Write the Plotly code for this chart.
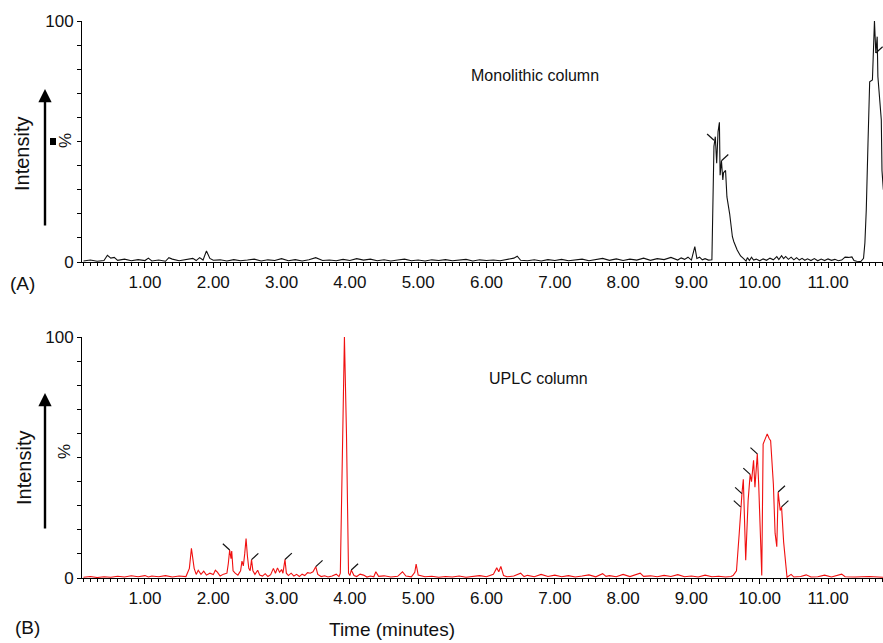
import plotly.graph_objects as go

# ---- (A) monolithic column: total ion chromatogram (time in min, intensity in %)
time_a = [
    0.10, 0.20, 0.30, 0.40, 0.45, 0.50, 0.55, 0.60, 0.70, 0.80, 0.90, 1.00, 1.05, 1.10,
    1.20, 1.30, 1.35, 1.40, 1.50, 1.60, 1.70, 1.75, 1.80, 1.85, 1.90, 1.95, 2.00, 2.10,
    2.20, 2.30, 2.40, 2.50, 2.60, 2.70, 2.80, 2.90, 3.00, 3.10, 3.20, 3.30, 3.40, 3.50,
    3.60, 3.70, 3.80, 3.90, 4.00, 4.10, 4.20, 4.30, 4.40, 4.50, 4.60, 4.70, 4.80, 4.90,
    5.00, 5.10, 5.20, 5.30, 5.40, 5.50, 5.60, 5.70, 5.80, 5.90, 6.00, 6.10, 6.20, 6.30,
    6.40, 6.45, 6.50, 6.60, 6.70, 6.80, 6.90, 7.00, 7.10, 7.20, 7.30, 7.40, 7.50, 7.60,
    7.70, 7.80, 7.90, 8.00, 8.10, 8.20, 8.30, 8.40, 8.50, 8.60, 8.70, 8.80, 8.85, 8.90,
    8.95, 9.00, 9.05, 9.08, 9.12, 9.16, 9.20, 9.25, 9.30,
    9.33, 9.35, 9.37, 9.39, 9.41, 9.42, 9.44, 9.46, 9.47, 9.50, 9.52, 9.56, 9.60, 9.62,
    9.67, 9.72, 9.76, 9.80,
    9.82, 9.85, 9.88, 9.91, 9.95, 10.00, 10.05, 10.10, 10.15, 10.20, 10.25, 10.28, 10.32,
    10.35, 10.38, 10.42, 10.46, 10.50, 10.54, 10.58, 10.62, 10.66, 10.70, 10.75, 10.80,
    10.85, 10.90, 10.95, 11.00, 11.05, 11.10, 11.15, 11.20, 11.25, 11.30, 11.35, 11.38,
    11.42, 11.48, 11.52, 11.54, 11.56, 11.585, 11.61, 11.65, 11.67, 11.68, 11.70, 11.72,
    11.73, 11.76, 11.78, 11.79, 11.81,
]
intensity_a = [
    0.4, 0.8, 0.3, 0.6, 2.8, 1.6, 1.9, 0.7, 1.2, 0.5, 1.0, 0.6, 1.6, 0.4,
    0.8, 0.3, 1.8, 1.2, 0.5, 0.9, 1.5, 0.6, 1.8, 0.8, 4.6, 1.5, 0.7, 0.9,
    0.4, 1.0, 0.5, 0.8, 1.2, 0.4, 0.9, 0.6, 1.4, 0.5, 1.0, 0.4, 0.9, 1.8,
    0.6, 0.8, 0.5, 1.1, 0.6, 1.4, 0.8, 1.2, 0.5, 0.9, 0.4, 0.8, 1.2, 0.5,
    0.8, 0.4, 0.9, 0.6, 1.0, 0.5, 0.8, 1.1, 0.4, 0.9, 0.6, 0.8, 0.5, 1.0,
    1.6, 2.4, 0.7, 0.5, 0.9, 0.4, 1.0, 0.6, 1.1, 0.5, 0.8, 1.2, 0.5, 0.9,
    1.5, 0.7, 1.3, 0.6, 1.2, 0.8, 1.6, 0.7, 1.4, 1.0, 1.9, 0.8, 1.7, 1.1,
    2.0, 0.8, 6.4, 1.5, 2.0, 0.9, 1.4, 0.8, 0.9,
    48.0, 52.0, 41.0, 54.0, 58.0, 36.0, 42.0, 34.0, 37.0, 38.0, 27.0, 20.0, 10.5, 8.5,
    5.0, 2.5, 1.5, 0.4,
    1.8, 0.6, 2.0, 0.8, 1.2, 0.5, 1.3, 0.7, 1.6, 0.9, 2.2, 1.0, 2.6,
    1.4, 2.3, 1.1, 2.0, 0.9, 1.8, 0.8, 1.5, 0.7, 1.3, 0.6, 1.4,
    0.5, 1.2, 0.6, 1.3, 0.7, 1.1, 0.5, 0.8, 2.0, 1.9, 2.1, 0.6,
    0.3, 0.2, 1.5, 8.0, 21.6, 49.0, 74.8, 75.5, 96.0, 100.0, 86.7, 93.5,
    77.0, 64.0, 59.0, 38.0, 30.0,
]

# ---- (B) UPLC column
time_b = [
    0.10, 0.20, 0.30, 0.40, 0.50, 0.60, 0.70, 0.80, 0.90, 1.00, 1.05, 1.10, 1.20, 1.30,
    1.40, 1.50, 1.60, 1.65, 1.68, 1.72, 1.75, 1.78, 1.82, 1.86, 1.90, 1.95, 2.00, 2.03,
    2.06, 2.10, 2.15, 2.20, 2.22, 2.24, 2.26, 2.27, 2.29, 2.32, 2.36, 2.40, 2.42, 2.44,
    2.46, 2.48, 2.50, 2.52, 2.54, 2.56, 2.58, 2.61, 2.65, 2.68, 2.72, 2.76, 2.80, 2.84,
    2.88, 2.91, 2.94, 2.97, 3.00, 3.02, 3.05, 3.07, 3.10, 3.14, 3.18, 3.22, 3.26, 3.30,
    3.34, 3.38, 3.42, 3.46, 3.50, 3.53, 3.58, 3.63, 3.68, 3.74, 3.80, 3.84, 3.86, 3.89,
    3.92, 3.95, 3.98, 4.00, 4.02, 4.06, 4.10, 4.15, 4.20, 4.25, 4.30, 4.35, 4.38, 4.42,
    4.50, 4.60, 4.70, 4.77, 4.82, 4.90, 4.95, 4.97, 5.00, 5.10, 5.20, 5.30, 5.40, 5.50,
    5.60, 5.70, 5.80, 5.90, 6.00, 6.10, 6.15, 6.18, 6.21, 6.25, 6.30, 6.40, 6.50, 6.55,
    6.60, 6.70, 6.80, 6.90, 7.00, 7.10, 7.20, 7.30, 7.40, 7.50, 7.60, 7.70, 7.75, 7.80,
    7.90, 8.00, 8.10, 8.20, 8.25, 8.30, 8.40, 8.50, 8.60, 8.70, 8.80, 8.90, 9.00, 9.10,
    9.20, 9.30, 9.40, 9.50, 9.58, 9.61, 9.66, 9.70, 9.72, 9.74, 9.76, 9.795, 9.83, 9.86,
    9.88, 9.91, 9.93, 9.965, 9.985, 10.03, 10.05, 10.08, 10.11, 10.14, 10.16, 10.20,
    10.225, 10.25, 10.27, 10.30, 10.32, 10.35, 10.385, 10.40, 10.46, 10.50, 10.60, 10.68,
    10.75, 10.85, 10.95, 11.05, 11.20, 11.25, 11.40, 11.60, 11.81,
]
intensity_b = [
    0.3, 0.6, 0.2, 0.5, 0.3, 0.7, 0.4, 0.9, 0.5, 1.0, 0.4, 0.8, 0.5, 1.0,
    0.4, 0.8, 0.6, 4.0, 12.3, 4.0, 1.5, 3.2, 1.5, 2.8, 1.2, 2.0, 1.4, 3.2,
    2.4, 0.8, 1.6, 2.0, 6.0, 11.6, 8.0, 11.2, 3.0, 2.0, 1.2, 3.0, 7.0, 5.0,
    10.0, 16.4, 9.0, 4.0, 3.0, 7.6, 3.0, 1.5, 3.2, 1.2, 0.8, 1.8, 0.6, 1.4,
    4.0, 2.0, 4.2, 2.4, 3.5, 2.0, 7.7, 2.0, 1.0, 2.0, 0.8, 1.5, 0.6, 1.6,
    1.0, 2.2, 2.0, 2.6, 4.7, 1.5, 0.6, 0.9, 0.4, 0.8, 1.6, 0.6, 2.0, 60.0,
    100.0, 60.0, 2.0, 1.0, 3.3, 1.0, 0.6, 1.6, 1.2, 0.4, 0.8, 0.5, 2.6, 0.7,
    0.9, 0.4, 0.7, 2.6, 0.8, 0.5, 2.4, 5.8, 1.2, 0.5, 0.7, 0.3, 0.6, 0.4,
    0.8, 0.3, 0.7, 1.0, 0.5, 1.5, 4.2, 2.6, 4.8, 1.0, 0.5, 0.8, 2.0, 0.6,
    1.1, 0.5, 1.5, 0.6, 1.2, 0.5, 1.0, 0.4, 0.8, 1.3, 0.5, 1.8, 0.7, 1.0,
    0.5, 1.5, 0.6, 1.4, 2.0, 0.7, 0.9, 0.5, 1.1, 0.6, 1.4, 0.5, 0.8, 0.4,
    1.2, 0.5, 0.7, 0.4, 0.6, 1.0, 3.0, 18.5, 29.5, 35.0, 41.0, 7.4, 32.0, 43.0,
    40.0, 48.8, 37.7, 51.5, 39.0, 1.0, 55.6, 57.8, 59.8, 57.8, 57.0, 39.0,
    18.6, 13.0, 35.7, 28.0, 29.5, 15.0, 3.5, 0.3, 1.5, 0.4, 0.6, 1.3,
    0.4, 0.5, 1.2, 0.4, 1.6, 0.5, 0.4, 0.6, 0.3,
]

# Integration tick marks at detected peaks: time, intensity, side (-1 left, +1 right)
peak_mark_time_a = [9.33, 9.44, 11.70]
peak_mark_int_a = [50.5, 42.0, 86.7]
peak_mark_side_a = [-1, 1, 1]

peak_mark_time_b = [2.24, 2.56, 3.05, 3.50, 4.02, 9.72, 9.74, 9.86, 9.965, 10.27, 10.32]
peak_mark_int_b = [11.6, 7.6, 7.7, 4.7, 3.3, 29.5, 35.0, 43.0, 51.5, 35.7, 29.5]
peak_mark_side_b = [-1, 1, 1, 1, 1, -1, -1, -1, -1, 1, 1]

x_tick_vals = [1, 2, 3, 4, 5, 6, 7, 8, 9, 10, 11]
x_tick_text = ["1.00", "2.00", "3.00", "4.00", "5.00", "6.00", "7.00", "8.00", "9.00", "10.00", "11.00"]

FONT = "Liberation Sans, Arial, Helvetica, sans-serif"
W, H = 883, 643
X0 = 82 / W
TOP_DOM = [1 - 262 / H, 1 - 21 / H]
BOT_DOM = [1 - 578 / H, 1 - 337 / H]
X_RANGE = [0.078, 11.805]


def mark_segments(ts, vs, sides, dx=0.10, dy=2.6):
    xs, ys = [], []
    for t, v, s in zip(ts, vs, sides):
        xs += [t, t + s * dx, None]
        ys += [v, v + dy, None]
    return xs, ys


fig = go.Figure()

fig.add_trace(go.Scatter(x=time_a, y=intensity_a, mode="lines",
                         line=dict(color="#111111", width=1.1),
                         xaxis="x", yaxis="y", hoverinfo="skip"))
mx, my = mark_segments(peak_mark_time_a, peak_mark_int_a, peak_mark_side_a)
fig.add_trace(go.Scatter(x=mx, y=my, mode="lines", line=dict(color="#111111", width=1.2),
                         xaxis="x", yaxis="y", hoverinfo="skip"))

fig.add_trace(go.Scatter(x=time_b, y=intensity_b, mode="lines",
                         line=dict(color="#f01010", width=1.1),
                         xaxis="x2", yaxis="y2", hoverinfo="skip"))
mx, my = mark_segments(peak_mark_time_b, peak_mark_int_b, peak_mark_side_b)
fig.add_trace(go.Scatter(x=mx, y=my, mode="lines", line=dict(color="#111111", width=1.2),
                         xaxis="x2", yaxis="y2", hoverinfo="skip"))


def xaxis(anchor):
    return dict(domain=[X0, 1.0], range=X_RANGE, anchor=anchor, automargin=False,
                showline=True, linecolor="black", linewidth=1, mirror=False,
                showgrid=False, zeroline=False,
                tickmode="array", tickvals=x_tick_vals, ticktext=x_tick_text,
                ticks="outside", ticklen=5, tickwidth=1, tickcolor="black",
                minor=dict(dtick=0.1, tick0=0, ticks="outside", ticklen=3,
                           tickwidth=1, tickcolor="black", showgrid=False),
                tickfont=dict(family=FONT, size=17, color="#111111"))


def yaxis(anchor, dom):
    return dict(domain=dom, range=[0, 100], anchor=anchor, automargin=False,
                showline=True, linecolor="black", linewidth=1,
                showgrid=False, zeroline=False,
                tickmode="array", tickvals=[0, 50, 100], ticktext=["0", "", "100"],
                ticks="outside", ticklen=4, tickwidth=1, tickcolor="black",
                minor=dict(dtick=10, tick0=0, ticks="outside", ticklen=4,
                           tickwidth=1, tickcolor="black", showgrid=False),
                tickfont=dict(family=FONT, size=17, color="#111111"))


fig.update_layout(
    width=W, height=H,
    margin=dict(l=0, r=0, t=0, b=0, autoexpand=False),
    paper_bgcolor="white", plot_bgcolor="white",
    showlegend=False,
    font=dict(family=FONT, color="#111111"),
    xaxis=xaxis("y"), yaxis=yaxis("x", TOP_DOM),
    xaxis2=xaxis("y2"), yaxis2=yaxis("x2", BOT_DOM),
)


def label(text, px, py, size, angle=0):
    return dict(text=text, x=px / W, y=1 - py / H, xref="paper", yref="paper",
                xanchor="center", yanchor="middle", showarrow=False,
                textangle=angle, font=dict(size=size, color="#111111"))


ann = [
    label("Monolithic column", 535, 75, 16),
    label("UPLC column", 538, 378, 16),
    label("(A)", 22, 283, 19),
    label("(B)", 27, 627, 19),
    label("Time (minutes)", 392, 629, 19),
]
# y axis labels: "Intensity", "%" and upward arrow
for mid, ix, pct_y, tip, tail in [(154, 22, 141, 89, 227), (468, 24, 452, 393, 530)]:
    ann.append(label("Intensity", ix, mid, 20, -90))
    ann.append(label("%", 65, pct_y, 17, -90))
    ann.append(dict(text="", x=45 / W, y=1 - tip / H, xref="paper", yref="paper",
                    showarrow=True, ax=0, ay=tail - tip, arrowhead=2, arrowsize=1.1,
                    arrowwidth=2.4, arrowcolor="black"))
fig.update_layout(annotations=ann)

# small filled square beside the top "%" label
fig.add_shape(type="rect", xref="paper", yref="paper",
              x0=50 / W, x1=56 / W, y0=1 - 145 / H, y1=1 - 138 / H,
              fillcolor="black", line=dict(width=0))

fig.write_html("out.html")
